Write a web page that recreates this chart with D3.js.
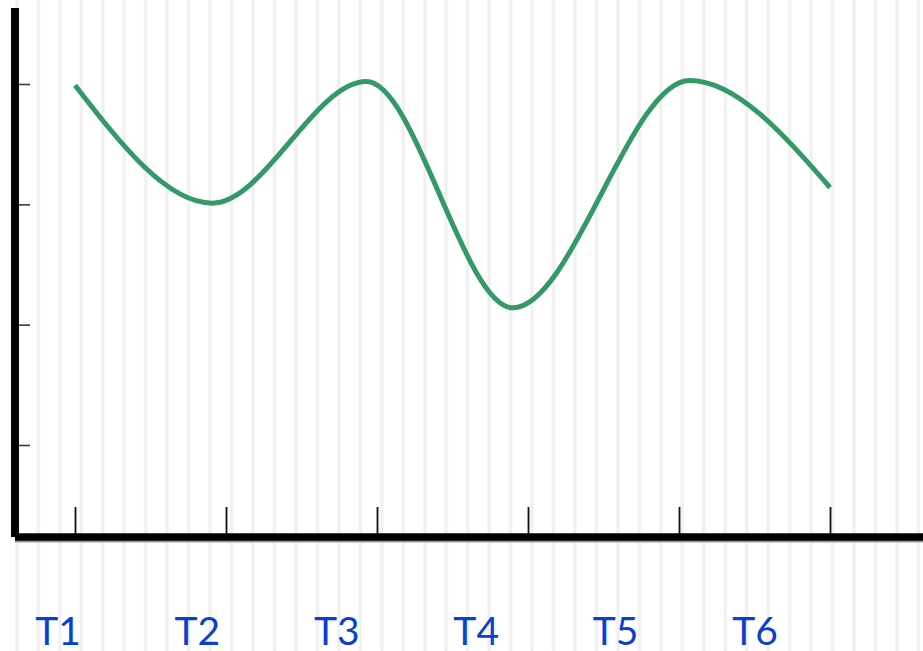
<!DOCTYPE html>
<html>
<head>
<meta charset="utf-8">
<script src="https://cdn.jsdelivr.net/npm/d3@7"></script>
<style>
  html, body { margin: 0; padding: 0; background: #fff; }
  svg { display: block; }
</style>
</head>
<body>
<div class="vis-linechart"></div>
<script>
// categories shown under the axis
const labels = ['T1', 'T2', 'T3', 'T4', 'T5', 'T6'];
// tick positions on the time axis
const timeTicks = [0, 1, 2, 3, 4, 5];
// the curve: time of each turning point and its value
const times = [0, 0.91, 1.93, 2.90, 4.07, 5];
const values = [3.99, 3.01, 4.02, 2.14, 4.03, 3.14];
// unlabeled value ticks
const valueTicks = [1, 2, 3, 4];

const width = 923;
const height = 651;
const axisX = 15;     // y axis line
const axisY = 537;    // x axis line
const axisTop = 8;

const data = times.map((t, i) => ({ t, v: values[i] }));

const svg = d3
  .select('.vis-linechart')
  .append('svg')
  .attr('width', width)
  .attr('height', height);

// striped background
const defs = svg.append('defs');
const grad = defs.append('linearGradient')
  .attr('id', 'stripe')
  .attr('x1', '0').attr('x2', '1').attr('y1', '0').attr('y2', '0');
grad.append('stop').attr('offset', '0%').attr('stop-color', '#ffffff');
grad.append('stop').attr('offset', '38%').attr('stop-color', '#ffffff');
grad.append('stop').attr('offset', '50%').attr('stop-color', '#ebebeb');
grad.append('stop').attr('offset', '62%').attr('stop-color', '#ffffff');
grad.append('stop').attr('offset', '100%').attr('stop-color', '#ffffff');
const period = width / 43;
const pattern = defs.append('pattern')
  .attr('id', 'stripes')
  .attr('patternUnits', 'userSpaceOnUse')
  .attr('x', 16.9 - period / 2)
  .attr('y', 0)
  .attr('width', period)
  .attr('height', height);
pattern.append('rect')
  .attr('width', period)
  .attr('height', height)
  .attr('fill', 'url(#stripe)');
svg.append('rect')
  .attr('width', width)
  .attr('height', height)
  .attr('fill', 'url(#stripes)');

const x = d3.scaleLinear().domain([0, 5]).range([75, 830]);
const y = d3.scaleLinear().domain([1, 4]).range([445, 84]);
const xl = d3.scalePoint().domain(labels).range([58, 755]);

// Y ticks pointing into the plot
svg.append('g')
  .attr('transform', `translate(${axisX},0)`)
  .call(d3.axisRight(y).tickValues(valueTicks).tickSize(15).tickFormat(''))
  .call((g) => g.select('.domain').remove())
  .call((g) => g.selectAll('.tick line').attr('stroke', '#3a3a3a').attr('stroke-width', 1.6));

// X ticks pointing up
svg.append('g')
  .attr('transform', `translate(0,${axisY})`)
  .call(d3.axisTop(x).tickValues(timeTicks).tickSize(30).tickFormat(''))
  .call((g) => g.select('.domain').remove())
  .call((g) => g.selectAll('.tick line').attr('stroke', '#111').attr('stroke-width', 1.8));

// axis lines
svg.append('line')
  .attr('x1', axisX).attr('x2', width)
  .attr('y1', axisY + 1.5).attr('y2', axisY + 1.5)
  .attr('stroke', '#9a9a9a').attr('stroke-width', 8);
svg.append('line')
  .attr('x1', axisX).attr('x2', width)
  .attr('y1', axisY).attr('y2', axisY)
  .attr('stroke', '#000').attr('stroke-width', 7.5);
svg.append('line')
  .attr('x1', axisX).attr('x2', axisX)
  .attr('y1', axisTop).attr('y2', axisY)
  .attr('stroke', '#000').attr('stroke-width', 8);

// the line
svg.append('path')
  .datum(data)
  .attr('fill', 'none')
  .attr('stroke', '#339966')
  .attr('stroke-width', 5)
  .attr('d', d3.line()
    .x((d) => x(d.t))
    .y((d) => y(d.v))
    .curve(d3.curveMonotoneX));

// category labels
svg.append('g')
  .selectAll('text')
  .data(labels)
  .join('text')
  .attr('x', (d) => xl(d))
  .attr('y', 645)
  .attr('text-anchor', 'middle')
  .attr('fill', '#0b3fd0')
  .attr('font-family', 'Lato, "DejaVu Sans", sans-serif')
  .attr('font-size', 39)
  .text((d) => d);
</script>
</body>
</html>
